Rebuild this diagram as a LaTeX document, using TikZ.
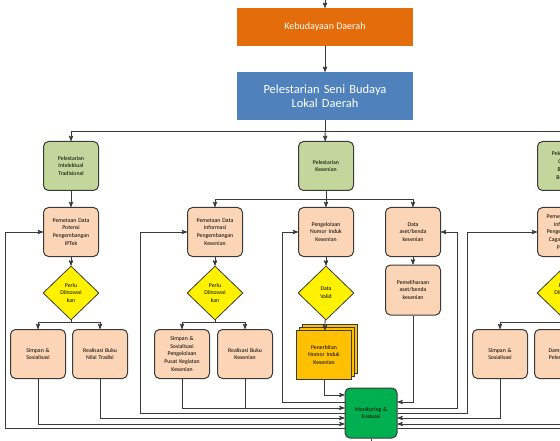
\documentclass[tikz,border=0pt]{standalone}
\usepackage{fontspec}
\setmainfont{Carlito}
\usetikzlibrary{positioning, arrows, shapes.geometric, shadows}

\definecolor{kborange}{HTML}{E46C0A}
\definecolor{kbblue}{HTML}{4F81BD}
\definecolor{kbgreen}{HTML}{C3D69B}
\definecolor{kbpeach}{HTML}{FBD5B5}
\definecolor{kbgold}{HTML}{FFC000}
\definecolor{kbmonev}{HTML}{00B050}
\definecolor{kbline}{HTML}{3A3A3A}

\tikzset{
  topbox/.style={rectangle, minimum width=176pt, text=white, align=center, inner sep=2pt},
  smallbox/.style={rectangle, rounded corners=5pt, draw=kbline, line width=1pt,
    minimum width=55pt, minimum height=49pt, text width=51pt, align=center,
    inner sep=1pt, font=\fontsize{5.8}{7.8}\selectfont},
  gbox/.style={smallbox, fill=kbgreen},
  obox/.style={smallbox, fill=kbpeach},
  dmd/.style={diamond, draw=kbline, line width=0.8pt, fill=yellow, minimum width=56pt,
    minimum height=54pt, inner sep=0pt, text width=22pt, align=center,
    font=\fontsize{5.8}{7.8}\selectfont},
  docstack/.style={smallbox, rounded corners=0pt, fill=kbgold, draw=kbline, line width=0.6pt,
    double copy shadow={shadow xshift=3pt, shadow yshift=3pt}},
  monev/.style={smallbox, fill=kbmonev, minimum width=52pt, minimum height=50pt, text width=46pt},
  conn/.style={draw=kbline, line width=0.9pt}
}

\begin{document}
\begin{tikzpicture}[x=1pt,y=-1pt,>=stealth',on grid]
  \useasboundingbox (0,0) rectangle (560,441);
  \clip (0,0) rectangle (560,441);

  \node[topbox, fill=kborange, minimum height=38pt, font=\fontsize{10}{12}\selectfont] (kbd) at (325,27) {Kebudayaan Daerah};
  \node[topbox, fill=kbblue, minimum height=48pt, text width=170pt, font=\fontsize{12.5}{14.5}\selectfont] (pel) at (325,96) {Pelestarian Seni Budaya\\Lokal Daerah};

  % kolom atas
  \node[gbox] (g1) at (71,166) {Pelestarian\\Intelektual\\Tradisional};
  \node[gbox] (g2) at (326,166) {Pelestarian\\Kesenian};
  \node[gbox] (g3) at (565,166) {Pelestarian\\Cagar\\Benda\\Budaya};

  \node[obox] (p1) at (71,232) {Pemetaan Data\\Potensi\\Pengembangan\\IPTek};
  \node[obox] (p2) at (215,232) {Pemetaan Data\\Informasi\\Pengembangan\\Kesenian};
  \node[obox] (p3) at (326,232) {Pengelolaan\\Nomor Induk\\Kesenian};
  \node[obox] (p4) at (413,232) {Data\\aset/benda\\kesenian};
  \node[obox] (p5) at (565,232) {Pemetaan Data\\Informasi\\Pengembangan\\Cagar Budaya\\Pusaka};

  \node[dmd] (d1) [below=61pt of p1] {Perlu\\Diinovasi\\kan};
  \node[dmd] (d2) [below=61pt of p2] {Perlu\\Diinovasi\\kan};
  \node[dmd] (d3) [below=61pt of p3] {Data\\Valid};
  \node[dmd] (d5) [below=61pt of p5] {Perlu\\Diinovasi\\kan};
  \node[obox, minimum height=50pt] (pm) [below=58pt of p4] {Pemeliharaan\\aset/benda\\kesenian};

  % kolom bawah
  \node[obox] (s1) at (38,354) {Simpan \&\\Sosialisasi};
  \node[obox] (r1) at (100,354) {Realisasi Buku\\Nilai Tradisi};
  \node[obox] (s2) at (182,354) {Simpan \&\\Sosialisasi\\Pengelolaan\\Pusat Kegiatan\\Kesenian};
  \node[obox] (r2) at (245,354) {Realisasi Buku\\Kesenian};
  \node[docstack] (doc) at (324,355) {Penerbitan\\Nomor Induk\\Kesenian};
  \node[obox] (s5) at (500,354) {Simpan \&\\Sosialisasi};
  \node[obox] (r5) at (562,354) {Dampingan\\Pelestarian};

  \node[monev] (mon) at (371,413) {Monitoring \&\\Evaluasi};

  \coordinate (in) at (325,-5);
  \coordinate (out) at (371,448);
  \coordinate (bus1) at (325,131);
  \coordinate (bus2) at (326,199);
  \coordinate (sp1) at (71,322);
  \coordinate (sp2) at (215,322);
  \coordinate (sp5) at (565,322);
  \coordinate (j2) at (245,408);
  \coordinate (lp1) at (5,428);
  \coordinate (lp2) at (140,413);
  \coordinate (lp3) at (282,402);
  \coordinate (lp4) at (457,408);
  \coordinate (lp5) at (467,413);
  \coordinate (lp6) at (600,428);

  \path[conn,->]
    (in) edge (kbd)
    (kbd) edge (pel)
    (mon) edge (out);

  \draw[conn] (pel) -- (bus1);
  \draw[conn,->] (bus1) -| (g1);
  \draw[conn,->] (bus1) -- (g2);
  \draw[conn,->] (bus1) -| (g3);

  \draw[conn,->] (g1) -- (p1);
  \draw[conn,->] (g2) -- (p3);
  \draw[conn,->] (g3) -- (p5);
  \draw[conn,->] (bus2) -| (p2);
  \draw[conn,->] (bus2) -| (p4);

  \path[conn,->]
    (p1) edge (d1)
    (p2) edge (d2)
    (p3) edge (d3)
    (p5) edge (d5)
    (p4) edge (pm)
    (d3) edge (doc);

  \draw[conn] (d1) -- (sp1);
  \draw[conn,->] (sp1) -| (s1);
  \draw[conn,->] (sp1) -| (r1);
  \draw[conn] (d2) -- (sp2);
  \draw[conn,->] (sp2) -| (s2);
  \draw[conn,->] (sp2) -| (r2);
  \draw[conn] (d5) -- (sp5);
  \draw[conn,->] (sp5) -| (s5);
  \draw[conn,->] (sp5) -| (r5);

  % ke monitoring
  \draw[conn,->] (doc) |- ([yshift=18pt]mon.west);
  \draw[conn,->] (s2) |- ([yshift=5pt]mon.west);
  \draw[conn] (r2) -- (j2);
  \draw[conn,->] (r1) |- ([yshift=-5pt]mon.west);
  \draw[conn,->] (s1) |- ([yshift=-11pt]mon.west);
  \draw[conn,->] (pm) |- ([yshift=11pt]mon.east);
  \draw[conn,->] (s5) |- ([yshift=-5pt]mon.east);
  \draw[conn,->] (r5) |- ([yshift=-11pt]mon.east);

  % umpan balik
  \draw[conn,->] ([yshift=-15pt]mon.west) -- (lp1) |- (p1);
  \draw[conn,->] (mon.west) -- (lp2) |- (p2);
  \draw[conn,->] ([yshift=11pt]mon.west) -- (lp3) |- (p3);
  \draw[conn,->] ([yshift=5pt]mon.east) -- (lp4) |- (p4);
  \draw[conn,->] (mon.east) -- (lp5) |- (p5);
  \draw[conn] ([yshift=-15pt]mon.east) -- (lp6);
\end{tikzpicture}
\end{document}
